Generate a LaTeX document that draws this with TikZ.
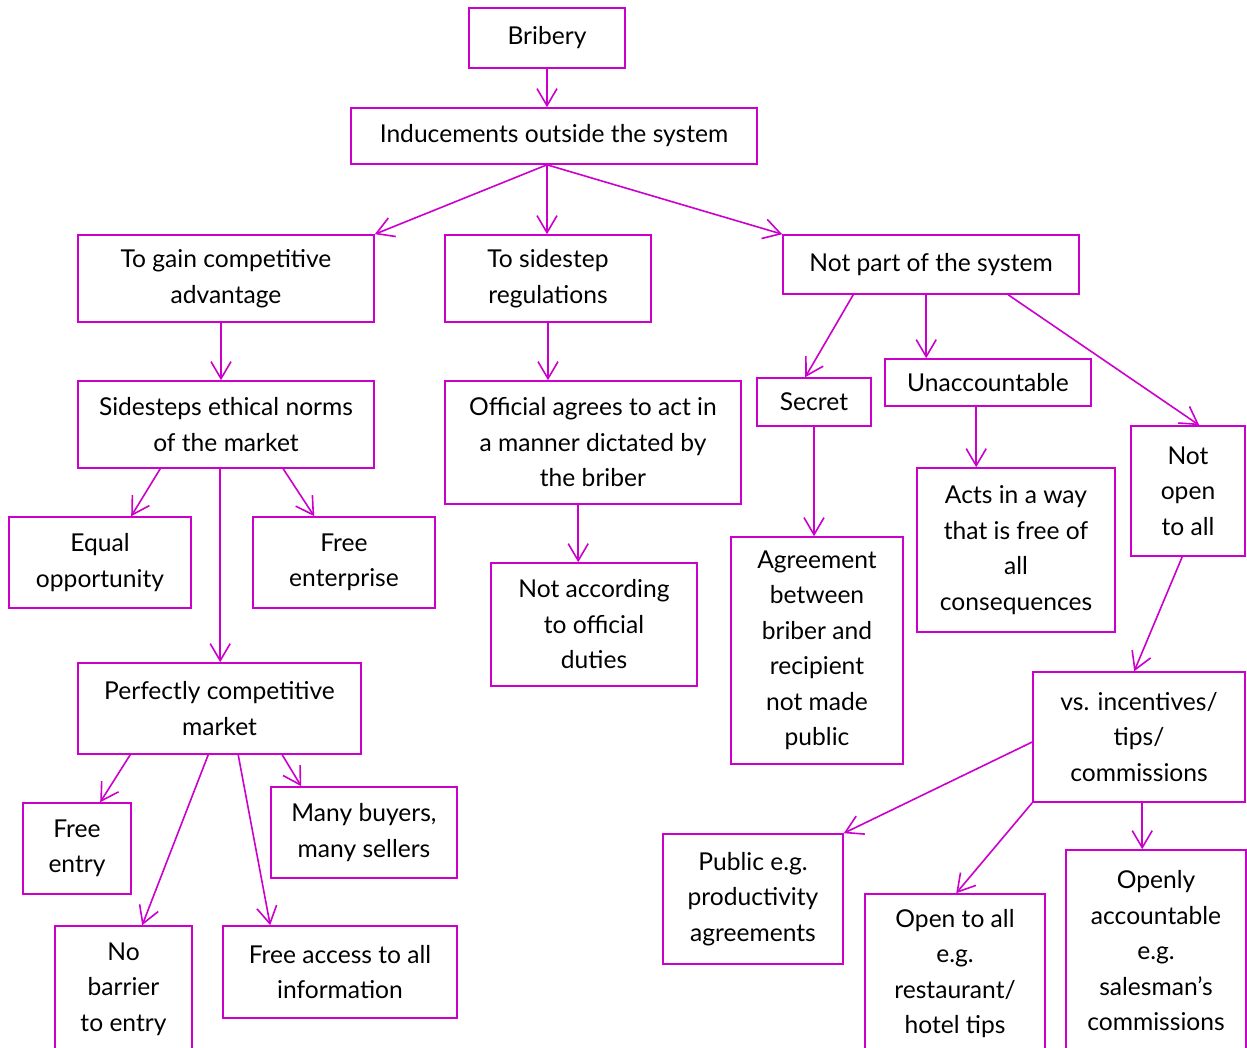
\documentclass[tikz,border=0pt]{standalone}
\usepackage{fontspec}
\setmainfont{Lato}
\usetikzlibrary{arrows.meta}
\definecolor{mag}{RGB}{204,0,204}
\begin{document}
\begin{tikzpicture}[x=1pt,y=-1pt,
 box/.style={draw=mag, line width=1.6pt, align=center, inner sep=0pt,
   font=\fontsize{24.6}{35.5}\selectfont},
 arr/.style={draw=mag, line width=1.6pt, -{Straight Barb[length=17pt,width=20pt]}}]
\fill[white] (0,0) rectangle (1247,1047);
\useasboundingbox (0,0) rectangle (1247,1047);

\node[box, minimum width=156pt, minimum height=60pt] (bribery) at (547,38) {Bribery};
\node[box, minimum width=406pt, minimum height=56pt] (induce) at (554,136) {Inducements outside the system};
\node[box, minimum width=296pt, minimum height=87pt] (gain) at (226,278.5) {To gain competitive\\advantage};
\node[box, minimum width=206pt, minimum height=87pt] (sidestep) at (548,278.5) {To sidestep\\regulations};
\node[box, minimum width=296pt, minimum height=59pt] (notpart) at (931,264.5) {Not part of the system};
\node[box, minimum width=296pt, minimum height=87pt] (ethical) at (226,424.5) {Sidesteps ethical norms\\of the market};
\node[box, minimum width=296pt, minimum height=123pt] (official) at (593,442.5) {Official agrees to act in\\a manner dictated by\\the briber};
\node[box, minimum width=182pt, minimum height=91pt] (equal) at (100,562.5) {Equal\\opportunity};
\node[box, minimum width=182pt, minimum height=91pt] (freeent) at (344,562.5) {Free\\enterprise};
\node[box, minimum width=206pt, minimum height=123pt] (notacc) at (594,624.5) {Not according\\to official\\duties};
\node[box, minimum width=283pt, minimum height=91pt] (perfect) at (219.5,708.5) {Perfectly competitive\\market};
\node[box, minimum width=108pt, minimum height=91pt] (freeentry) at (77,848.5) {Free\\entry};
\node[box, minimum width=186pt, minimum height=91pt] (many) at (364,832.5) {Many buyers,\\many sellers};
\node[box, minimum width=137pt, minimum height=126pt] (nobarrier) at (123.5,989) {No\\barrier\\to entry};
\node[box, minimum width=234pt, minimum height=92pt] (access) at (340,972) {Free access to all\\information};
\node[box, minimum width=114pt, minimum height=48pt] (secret) at (814,402) {Secret};
\node[box, minimum width=206pt, minimum height=47pt] (unacc) at (988,382.5) {Unaccountable};
\node[box, minimum width=114pt, minimum height=130pt] (notopen) at (1188,491) {Not\\open\\to all};
\node[box, minimum width=172pt, minimum height=227pt] (agreement) at (817,650.5) {Agreement\\between\\briber and\\recipient\\not made\\public};
\node[box, minimum width=198pt, minimum height=164pt] (acts) at (1016,550) {Acts in a way\\that is free of\\all\\consequences};
\node[box, minimum width=212pt, minimum height=130pt] (vs) at (1139,737) {vs. incentives/\\tips/\\commissions};
\node[box, minimum width=180pt, minimum height=130pt] (public) at (753,899) {Public e.g.\\productivity\\agreements};
\node[box, minimum width=180pt, minimum height=159pt] (opentoall) at (955,973.5) {Open to all\\e.g.\\restaurant/\\hotel tips};
\node[box, minimum width=180pt, minimum height=202pt] (openly) at (1156,951) {Openly\\accountable\\e.g.\\salesman’s\\commissions};

\coordinate (ind) at ([xshift=-7pt]induce.south);
\draw[arr] (bribery.south) -- (bribery.south |- induce.north);
\draw[arr] (ind) -- (gain.north east);
\draw[arr] (ind) -- (ind |- sidestep.north);
\draw[arr] (ind) -- (notpart.north west);
\draw[arr] ([xshift=-5pt]gain.south) -- ([xshift=-5pt]ethical.north);
\draw[arr] (sidestep.south) -- (sidestep.south |- official.north);
\draw[arr] ([xshift=83pt]ethical.south west) -- ([xshift=123pt]equal.north west);
\draw[arr] ([xshift=206pt]ethical.south west) -- ([xshift=62pt]freeent.north west);
\draw[arr] ([xshift=143pt]ethical.south west) -- ([xshift=143pt]perfect.north west);
\draw[arr] ([xshift=134pt]official.south west) -- ([xshift=88pt]notacc.north west);
\draw[arr] ([xshift=53pt]perfect.south west) -- ([xshift=78pt]freeentry.north west);
\draw[arr] ([xshift=205pt]perfect.south west) -- ([xshift=31pt]many.north west);
\draw[arr] ([xshift=131pt]perfect.south west) -- ([xshift=88pt]nobarrier.north west);
\draw[arr] ([xshift=161pt]perfect.south west) -- ([xshift=48pt]access.north west);
\draw[arr] ([xshift=71pt]notpart.south west) -- ([xshift=49pt]secret.north west);
\draw[arr] ([xshift=144pt]notpart.south west) -- ([xshift=42pt]unacc.north west);
\draw[arr] ([xshift=226pt]notpart.south west) -- ([xshift=69pt]notopen.north west);
\draw[arr] (secret.south) -- (secret.south |- agreement.north);
\draw[arr] ([xshift=92pt]unacc.south west) -- ([xshift=60pt]acts.north west);
\draw[arr] ([xshift=52pt]notopen.south west) -- ([xshift=102pt]vs.north west);
\draw[arr] ([yshift=-5pt]vs.west) -- (public.north east);
\draw[arr] (vs.south west) -- ([xshift=92pt]opentoall.north west);
\draw[arr] ([xshift=110pt]vs.south west) -- ([xshift=77pt]openly.north west);
\end{tikzpicture}
\end{document}
